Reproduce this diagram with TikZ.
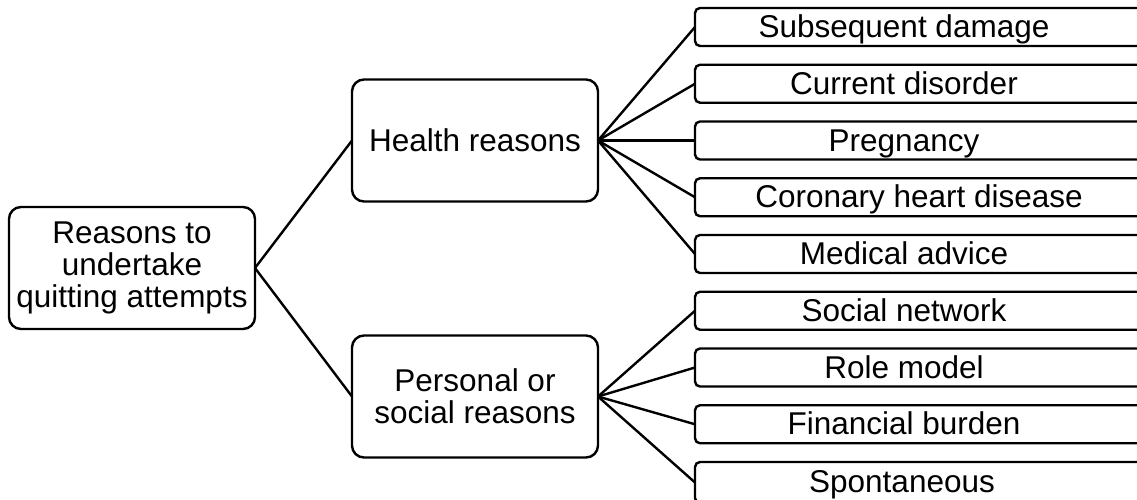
\documentclass[tikz,border=0pt]{standalone}
\usepackage{fontspec}
\setmainfont{Liberation Sans}
\begin{document}
\begin{tikzpicture}[x=1pt,y=-1pt,
  every node/.style={font=\fontsize{31.5}{32}\selectfont, inner sep=0pt, outer sep=0pt},
  bigbox/.style={draw, line width=2.4pt, rounded corners=12pt, minimum width=246pt, minimum height=122pt, align=center},
  leafbox/.style={draw, line width=2.4pt, rounded corners=5pt, minimum width=470pt, minimum height=38pt, anchor=west},
  leaftext/.style={anchor=base},
  conn/.style={line width=2.4pt}]
\useasboundingbox (0,0) rectangle (1137,499);
\clip (0,0) rectangle (1137,499);

\node[bigbox] (root) at (132,268) {Reasons to\\undertake\\quitting attempts};
\node[bigbox] (health) at (475,140.5) {Health reasons};
\node[bigbox] (personal) at (475,396.5) {Personal or\\social reasons};

\node[leafbox] (l1) at (695,27) {};
\node[leafbox] (l2) at (695,83.75) {};
\node[leafbox] (l3) at (695,140.5) {};
\node[leafbox] (l4) at (695,197.25) {};
\node[leafbox] (l5) at (695,254) {};
\node[leafbox] (l6) at (695,310.75) {};
\node[leafbox] (l7) at (695,367.5) {};
\node[leafbox] (l8) at (695,424.25) {};
\node[leafbox, minimum height=41pt] (l9) at (695,482.5) {};

\node[leaftext] (t1) at (904,37.5) {Subsequent damage};
\node[leaftext] (t2) at (904,94.25) {Current disorder};
\node[leaftext] (t3) at (904,151) {Pregnancy};
\node[leaftext] (t4) at (919,207.75) {Coronary heart disease};
\node[leaftext] (t5) at (904,264.5) {Medical advice};
\node[leaftext] (t6) at (904,321.25) {Social network};
\node[leaftext] (t7) at (904,378) {Role model};
\node[leaftext] (t8) at (904,434.75) {Financial burden};
\node[leaftext] (t9) at (902,492) {Spontaneous};

\draw[conn] (root.east) -- (health.west);
\draw[conn] (root.east) -- (personal.west);
\foreach \i in {1,...,5} { \draw[conn] (health.east) -- (l\i.west); }
\foreach \i in {6,...,9} { \draw[conn] (personal.east) -- (l\i.west); }
\end{tikzpicture}
\end{document}
